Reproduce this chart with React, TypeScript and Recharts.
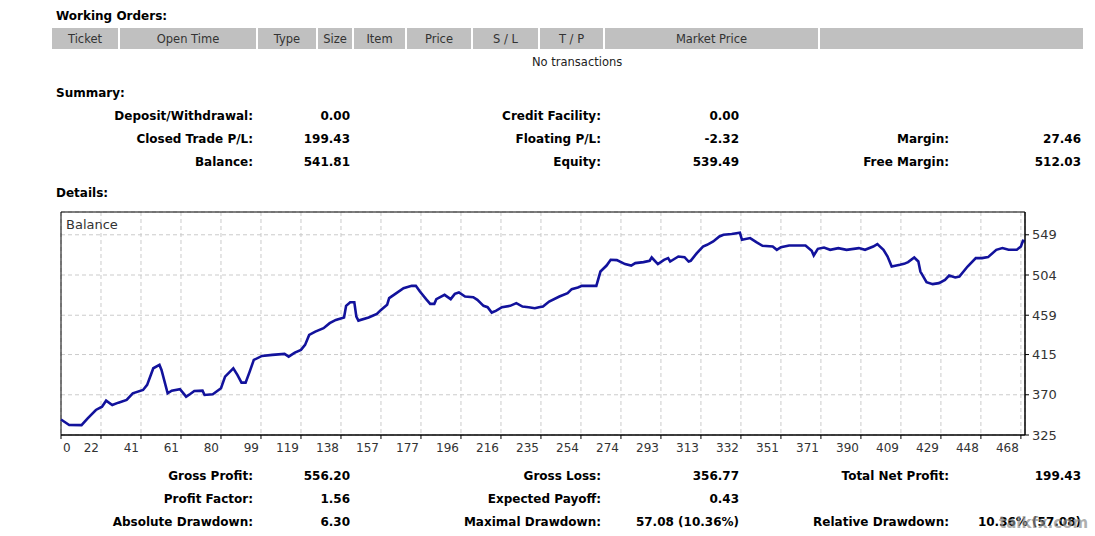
import { CartesianGrid, Line, LineChart, ReferenceArea, XAxis, YAxis } from "recharts";

// trade number and balance after that trade
const tradeIdx = [
  0, 4, 10, 13, 17, 20, 22, 25, 28, 32, 35, 40, 42, 45, 48, 49, 52, 54, 58, 59,
  61, 63, 65, 69, 70, 74, 78, 80, 84, 86, 88, 90, 92, 94, 98, 103, 109, 111, 114, 117,
  119, 121, 124, 128, 131, 134, 138, 139, 141, 143, 144, 145, 150, 154, 156, 159, 160, 163, 167, 171,
  173, 175, 178, 180, 182, 183, 187, 190, 192, 194, 197, 201, 203, 206, 208, 210, 212, 215, 219, 222,
  225, 228, 231, 233, 235, 238, 243, 247, 249, 252, 254, 261, 263, 266, 268, 271, 275, 278, 280, 284,
  287, 288, 291, 294, 296, 297, 301, 304, 306, 307, 310, 313, 315, 318, 321, 323, 327, 331, 332, 336,
  339, 342, 347, 349, 351, 355, 363, 366, 367, 369, 372, 375, 379, 383, 389, 392, 396, 398, 401, 403,
  405, 409, 411, 413, 416, 418, 419, 422, 425, 428, 431, 433, 436, 438, 442, 446, 449, 452, 456, 459,
  462, 466, 468, 469, 470,
];

const balance = [
  342.38, 336.2, 336.1, 343.7, 353.0, 356.7, 363.4, 358.6, 361.2, 364.2, 371.7, 375.4, 381.0, 399.7, 403.4, 397.8, 371.7, 374.6, 376.2, 373.5,
  367.9, 370.9, 374.3, 374.6, 369.8, 370.6, 377.3, 390.3, 399.7, 392.2, 383.6, 383.6, 395.9, 409.0, 413.5, 414.6, 415.7, 412.7, 417.2, 420.2,
  425.8, 437.0, 440.7, 444.5, 450.1, 453.8, 456.4, 469.5, 473.6, 473.6, 457.5, 453.0, 456.4, 460.5, 465.0, 470.6, 478.1, 482.9, 489.3, 491.9,
  491.9, 485.5, 477.0, 471.7, 471.7, 477.0, 481.8, 477.0, 482.9, 484.4, 479.9, 479.2, 476.2, 469.5, 468.0, 462.0, 463.9, 468.0, 469.5, 472.5,
  468.7, 468.0, 466.9, 468.0, 468.7, 474.3, 479.9, 483.7, 488.2, 490.0, 491.9, 491.9, 507.9, 514.6, 521.0, 520.7, 516.2, 514.6, 517.3, 518.4,
  519.9, 523.6, 516.2, 521.0, 522.9, 519.1, 524.7, 524.0, 519.1, 519.9, 528.5, 535.9, 537.8, 541.5, 547.1, 549.0, 549.8, 551.2, 543.4, 545.3,
  540.8, 536.7, 535.9, 532.2, 535.2, 537.0, 537.0, 531.1, 525.8, 533.3, 534.8, 532.2, 534.1, 532.2, 534.1, 532.2, 535.9, 538.6, 532.2, 524.7,
  513.5, 515.4, 516.5, 518.4, 523.6, 519.1, 507.9, 496.0, 493.8, 494.9, 498.6, 503.4, 501.2, 502.3, 513.5, 522.9, 522.9, 524.0, 532.2, 534.1,
  532.2, 532.2, 535.9, 542.3, 541.81,
];

const xTickLabels = [0, 22, 41, 61, 80, 99, 119, 138, 157, 177, 196, 216, 235, 254, 274, 293, 313, 332, 351, 371, 390, 409, 429, 448, 468];
const yTicks = [325, 370, 415, 459, 504, 549];

const headerCols = ["Ticket", "Open Time", "Type", "Size", "Item", "Price", "S / L", "T / P", "Market Price", ""];
const headerWidths = [68, 138, 60, 36, 53, 66, 67, 65, 215, 265];

const summaryRows = [
  ["Deposit/Withdrawal:", "0.00", "Credit Facility:", "0.00", "", ""],
  ["Closed Trade P/L:", "199.43", "Floating P/L:", "-2.32", "Margin:", "27.46"],
  ["Balance:", "541.81", "Equity:", "539.49", "Free Margin:", "512.03"],
];

const detailRows = [
  ["Gross Profit:", "556.20", "Gross Loss:", "356.77", "Total Net Profit:", "199.43"],
  ["Profit Factor:", "1.56", "Expected Payoff:", "0.43", "", ""],
  ["Absolute Drawdown:", "6.30", "Maximal Drawdown:", "57.08 (10.36%)", "Relative Drawdown:", "10.36% (57.08)"],
];

const data = tradeIdx.map((t, i) => ({ t, v: balance[i] }));
const xStep = 19.5;
const xTickPos = xTickLabels.map((_, i) => i * xStep);

const FONT = "'DejaVu Sans', Verdana, sans-serif";
const colRight = [253, 350, 601, 739, 949, 1081];

function Txt({ x, y, text, anchor = "end", bold = true, size = 12, color = "#000" }: any) {
  const style: any = {
    position: "absolute",
    top: y - 7,
    lineHeight: "16px",
    fontSize: size,
    fontWeight: bold ? 700 : 400,
    color,
    whiteSpace: "nowrap",
  };
  if (anchor === "end") style.right = 1095 - x;
  else style.left = x;
  return <div style={style}>{text}</div>;
}

function StatRows({ rows, top }: { rows: string[][]; top: number }) {
  return (
    <>
      {rows.map((r, ri) =>
        r.map((s, ci) => (s ? <Txt key={`${ri}-${ci}`} x={colRight[ci]} y={top + ri * 23} text={s} /> : null))
      )}
    </>
  );
}

function XTick(props: any) {
  const { x, y, payload } = props;
  const k = Math.round(payload.value / xStep);
  const first = k === 0;
  return (
    <text x={first ? x + 2 : x - 2} y={y} dy={11} textAnchor={first ? "start" : "end"} fill="#333" fontSize={12} fontFamily={FONT}>
      {xTickLabels[k]}
    </text>
  );
}

export default function App() {
  return (
    <div style={{ position: "absolute", left: 0, top: 0, width: 1095, height: 536, background: "#fff", fontFamily: FONT, overflow: "hidden" }}>
      <Txt x={56} y={15} text="Working Orders:" anchor="start" />

      <div style={{ position: "absolute", left: 52, top: 28, height: 21, display: "flex", background: "#fff" }}>
        {headerCols.map((c, i) => (
          <div
            key={i}
            style={{
              width: headerWidths[i] - 2,
              marginRight: 2,
              background: "#c0c0c0",
              color: "#333",
              fontSize: 11.5,
              lineHeight: "22px",
              textAlign: "center",
            }}
          >
            {c}
          </div>
        ))}
      </div>
      <Txt x={532} y={61} text="No transactions" anchor="start" bold={false} size={11.5} color="#222" />

      <Txt x={56} y={92} text="Summary:" anchor="start" />
      <StatRows rows={summaryRows} top={115} />

      <Txt x={56} y={192} text="Details:" anchor="start" />

      <div style={{ position: "absolute", left: 0, top: 200 }}>
        <LineChart width={1095} height={270} data={data} margin={{ top: 12, right: 10, left: 61, bottom: 10 }}>
          <CartesianGrid stroke="#cbcbcb" strokeDasharray="4 3" />
          <XAxis
            dataKey="t"
            type="number"
            domain={[0, 470]}
            ticks={xTickPos}
            height={25}
            stroke="#000"
            tickSize={4}
            tick={<XTick />}
            interval={0}
          />
          <YAxis
            orientation="right"
            type="number"
            domain={[325, 574.5]}
            ticks={yTicks}
            width={60}
            stroke="#000"
            tickSize={4}
            tickMargin={3}
            interval={0}
            tick={{ fill: "#333", fontSize: 13, fontFamily: FONT }}
          />
          <ReferenceArea x1={0} x2={470} y1={325} y2={574.5} fill="none" stroke="#000" strokeWidth={1} fillOpacity={0} />
          <Line type="linear" dataKey="v" stroke="#12129c" strokeWidth={2.6} dot={false} isAnimationActive={false} />
        </LineChart>
      </div>
      <div style={{ position: "absolute", left: 66, top: 217, fontSize: 13, color: "#333", lineHeight: "16px" }}>Balance</div>

      <StatRows rows={detailRows} top={475} />

      <div style={{ position: "absolute", left: 999, top: 513, fontSize: 15, fontWeight: 700, color: "rgba(140,140,140,0.7)", lineHeight: "20px" }}>
        talkfx.com
      </div>
    </div>
  );
}
